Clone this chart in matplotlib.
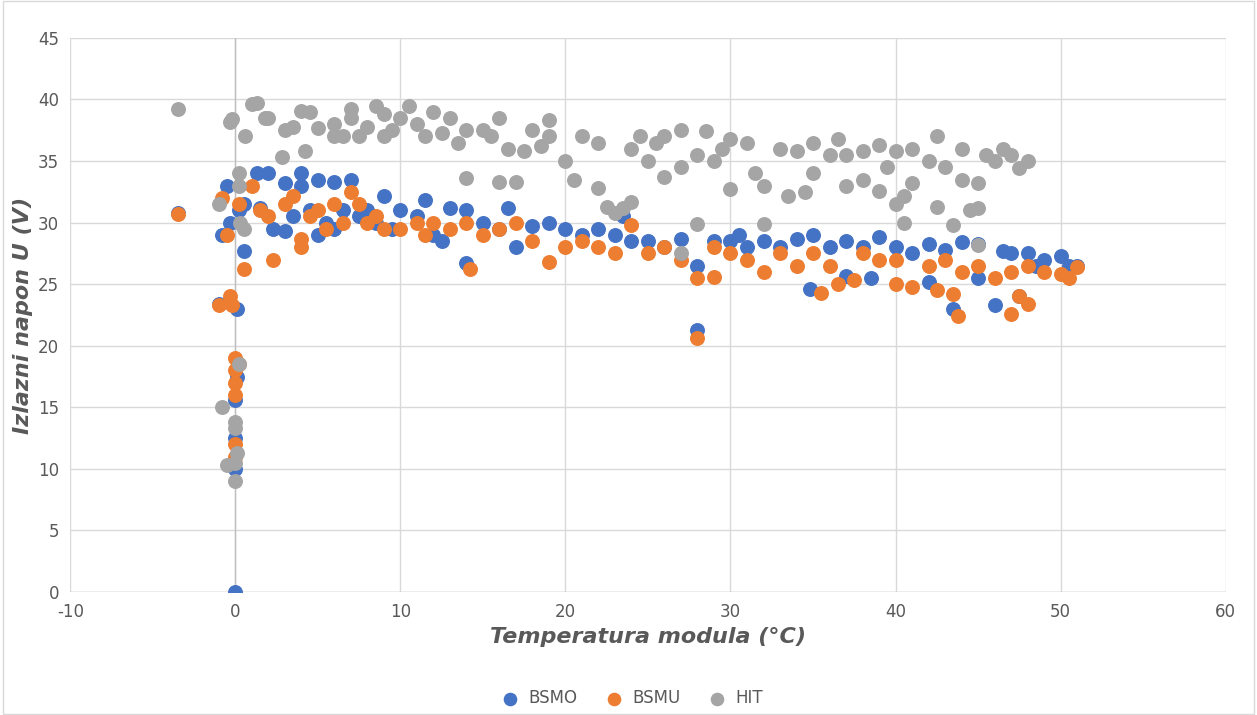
import matplotlib
matplotlib.use("Agg")
import matplotlib.pyplot as plt
from matplotlib.patches import Rectangle

plt.rcParams['axes.unicode_minus'] = False

# HIT
hit_x = [-3.5,-1,-0.8,-0.5,-0.3,-0.2,0,0,0,0.1,0,0.2,0.3,0.2,0.2,0.5,0.6,1,1.3,1.8,2,2.8,3,3.5,4,4.2,4.5,5,6,6,6.5,7,7,7.5,8,8.5,9,9,9.5,10,10.5,11,11.5,12,12.5,13,13.5,14,14,15,15.5,16,16,16.5,17,17.5,18,18.5,19,19,20,20.5,21,22,22,22.5,23,23.5,24,24,24.5,25,25.5,26,26,27,27,28,28,28.5,29,29.5,30,30,31,31.5,32,32,33,33.5,34,34.5,35,35,36,36.5,37,37,38,38,39,39,39.5,40,40,40.5,40.5,41,41,42,42.5,42.5,43,43.5,44,44,44.5,45,45,45,45.5,46,46.5,47,47.5,48,27]
hit_y = [39.2,31.5,15,10.3,38.2,38.4,9,13.3,13.8,11.3,10.5,18.5,30,33,34,29.5,37,39.6,39.7,38.5,38.5,35.3,37.5,37.8,39.1,35.8,39,37.7,37,38,37,38.5,39.2,37,37.8,39.5,38.8,37,37.5,38.5,39.5,38,37,39,37.3,38.5,36.5,33.6,37.5,37.5,37,38.5,33.3,36,33.3,35.8,37.5,36.2,38.3,37,35,33.5,37,32.8,36.5,31.3,30.8,31.2,31.7,36,37,35,36.5,33.7,37,34.5,37.5,29.9,35.5,37.4,35,36,32.7,36.8,36.5,34,33,29.9,36,32.2,35.8,32.5,36.5,34,35.5,36.8,33,35.5,33.5,35.8,32.6,36.3,34.5,31.5,35.8,30,32.2,33.2,36,35,31.3,37,34.5,29.8,33.5,36,31,31.2,33.2,28.2,35.5,35,36,35.5,34.4,35,27.5]

# BSMO
bsmo_x = [-3.5,-1,-0.8,-0.5,-0.3,0,0,0,0,0.1,0.1,0.2,0.5,0.5,1.3,1.5,2,2.3,3,3,3.5,4,4,4.5,5,5,5.5,6,6,6.5,7,7.5,8,8.5,9,9.5,10,11,11.5,12,12.5,13,14,14,15,16,16.5,17,18,19,20,21,22,23,23.5,24,25,26,27,28,28,29,30,30.5,31,32,33,34,34.8,35,36,37,37,38,38.5,39,40,41,42,42,43,43.5,44,45,45,46,46.5,47,47.5,48,48.5,49,50,50.5,51]
bsmo_y = [30.8,23.4,29,33,30,0,10,12.5,15.6,17.5,23,31,31.5,27.7,34,31.2,34,29.5,33.2,29.3,30.5,34,33,31,33.5,29,30,33.3,29.5,31,33.5,30.5,31,30,32.2,29.5,31,30.5,31.8,29,28.5,31.2,31,26.7,30,29.5,31.2,28,29.7,30,29.5,29,29.5,29,30.5,28.5,28.5,28,28.7,26.5,21.3,28.5,28.5,29,28,28.5,28,28.7,24.6,29,28,28.5,25.7,28,25.5,28.8,28,27.5,28.3,25.2,27.8,23,28.4,28.3,25.5,23.3,27.7,27.5,24,27.5,26.5,27,27.3,26.5,26.5]

# BSMU
bsmu_x = [-3.5,-1,-0.8,-0.5,-0.3,-0.2,0,0,0,0,0,0,0.2,0.2,0.5,1,1.5,2,2.3,3,3.5,4,4,4.5,5,5.5,6,6.5,7,7.5,8,8.5,9,10,11,11.5,12,13,14,14.2,15,16,17,18,19,20,21,22,23,24,25,26,27,28,28,29,29,30,31,32,33,34,35,35.5,36,36.5,37.5,38,39,40,40,41,42,42.5,43,43.5,43.8,44,45,46,47,47,47.5,48,48,49,50,50.5,51]
bsmu_y = [30.7,23.3,32,29,24,23.3,19,18,17,16,12,11,18.5,31.5,26.2,33,31,30.5,27,31.5,32.2,28,28.7,30.5,31,29.5,31.5,30,32.5,31.5,30,30.5,29.5,29.5,30,29,30,29.5,30,26.2,29,29.5,30,28.5,26.8,28,28.5,28,27.5,29.8,27.5,28,27,20.6,25.5,25.6,28,27.5,27,26,27.5,26.5,27.5,24.3,26.5,25,25.3,27.5,27,25,27,24.8,26.5,24.5,27,24.2,22.4,26,26.5,25.5,22.6,26,24,23.4,26.5,26,25.8,25.5,26.4]

fig = plt.figure(figsize=(12.57, 7.15), dpi=100)
ax = fig.add_axes([0.056, 0.172, 0.919, 0.775])
fig.patches.append(Rectangle((0.002, 0.002), 0.996, 0.996, transform=fig.transFigure,
                             fill=False, edgecolor="#d9d9d9", linewidth=1))

ax.scatter(bsmo_x, bsmo_y, s=95, color="#4472C4", label="BSMO", zorder=3)
ax.scatter(bsmu_x, bsmu_y, s=95, color="#ED7D31", label="BSMU", zorder=3)
ax.scatter(hit_x, hit_y, s=95, color="#A5A5A5", label="HIT", zorder=3)

ax.set_xlim(-10, 60)
ax.set_ylim(0, 45)
ax.set_xticks(range(-10, 61, 10))
ax.set_yticks(range(0, 46, 5))
ax.grid(True, color="#d9d9d9", linewidth=1)
ax.set_axisbelow(True)
for s in ax.spines.values():
    s.set_visible(False)
ax.axhline(0, color="#bfbfbf", linewidth=1, zorder=1)
ax.axvline(0, color="#bfbfbf", linewidth=1, zorder=1)
ax.tick_params(length=0, labelsize=12, colors="#595959", pad=8)

ax.set_xlabel("Temperatura modula (°C)", fontsize=16, fontweight="bold", style="italic", color="#595959")
ax.set_ylabel("Izlazni napon U (V)", fontsize=16, fontweight="bold", style="italic", color="#595959")

fig.legend(loc="lower center", ncol=3, frameon=False, fontsize=12, handletextpad=0.1,
           columnspacing=1.2, bbox_to_anchor=(0.5, -0.01), markerscale=0.9, labelcolor="#595959")

fig.savefig("out.png", dpi=100)
